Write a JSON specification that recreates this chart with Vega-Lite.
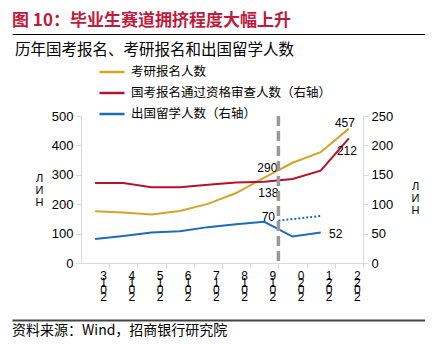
{
  "$schema": "https://vega.github.io/schema/vega-lite/v6.json",
  "padding": {"left": 12, "top": 12, "right": 0, "bottom": 0},
  "background": "white",
  "spacing": 8,
  "resolve": {"scale": {"color": "independent", "x": "independent"}, "legend": {"color": "independent"}},
  "config": {
    "view": {"stroke": null},
    "font": "Noto Sans CJK SC",
    "axis": {"labelFont": "Liberation Sans", "labelColor": "#000", "domainColor": "#d9d9d9", "tickColor": "#d9d9d9", "grid": false, "titleFont": "Liberation Sans", "titleFontWeight": "normal", "titleColor": "#000"}
  },
  "datasets": {
    "main": [
      {"year": 2013, "series": "考研报名人数", "value": 176},
      {"year": 2014, "series": "考研报名人数", "value": 172},
      {"year": 2015, "series": "考研报名人数", "value": 165},
      {"year": 2016, "series": "考研报名人数", "value": 177},
      {"year": 2017, "series": "考研报名人数", "value": 201},
      {"year": 2018, "series": "考研报名人数", "value": 238},
      {"year": 2019, "series": "考研报名人数", "value": 290},
      {"year": 2020, "series": "考研报名人数", "value": 341},
      {"year": 2021, "series": "考研报名人数", "value": 377},
      {"year": 2022, "series": "考研报名人数", "value": 457},
      {"year": 2013, "series": "国考报名通过资格审查人数（右轴）", "value": 136},
      {"year": 2014, "series": "国考报名通过资格审查人数（右轴）", "value": 136},
      {"year": 2015, "series": "国考报名通过资格审查人数（右轴）", "value": 129},
      {"year": 2016, "series": "国考报名通过资格审查人数（右轴）", "value": 129},
      {"year": 2017, "series": "国考报名通过资格审查人数（右轴）", "value": 133},
      {"year": 2018, "series": "国考报名通过资格审查人数（右轴）", "value": 137},
      {"year": 2019, "series": "国考报名通过资格审查人数（右轴）", "value": 138},
      {"year": 2020, "series": "国考报名通过资格审查人数（右轴）", "value": 143},
      {"year": 2021, "series": "国考报名通过资格审查人数（右轴）", "value": 157},
      {"year": 2022, "series": "国考报名通过资格审查人数（右轴）", "value": 212},
      {"year": 2013, "series": "出国留学人数（右轴）", "value": 41},
      {"year": 2014, "series": "出国留学人数（右轴）", "value": 46},
      {"year": 2015, "series": "出国留学人数（右轴）", "value": 52},
      {"year": 2016, "series": "出国留学人数（右轴）", "value": 54},
      {"year": 2017, "series": "出国留学人数（右轴）", "value": 61},
      {"year": 2018, "series": "出国留学人数（右轴）", "value": 66},
      {"year": 2019, "series": "出国留学人数（右轴）", "value": 70},
      {"year": 2020, "series": "出国留学人数（右轴）", "value": 45},
      {"year": 2021, "series": "出国留学人数（右轴）", "value": 52}
    ],
    "proj": [
      {"year": 2019.5, "value": 72},
      {"year": 2021, "value": 80}
    ],
    "divider": [{"year": 2019.5}]
  },
  "vconcat": [
    {
      "width": 413,
      "height": 1,
      "title": {"text": "图 10：毕业生赛道拥挤程度大幅上升", "anchor": "start", "font": "Noto Sans CJK SC", "fontSize": 17, "fontWeight": "bold", "color": "#C01A3D", "offset": 3},
      "mark": {"type": "text"},
      "encoding": {
        "x": {"datum": 0, "type": "quantitative", "scale": {"domain": [0, 1]}, "axis": {"orient": "bottom", "domainColor": "#000", "domainWidth": 1.2, "ticks": false, "labels": false, "title": null}},
        "text": {"value": ""}
      }
    },
    {
      "width": 413,
      "height": 147,
      "title": {"text": "历年国考报名、考研报名和出国留学人数", "anchor": "start", "frame": "group", "dx": 3, "font": "Noto Sans CJK SC", "fontSize": 15.5, "fontWeight": "normal", "color": "#000", "offset": 0},
      "data": {"name": "main"},
      "encoding": {
        "x": {
          "field": "year", "type": "quantitative",
          "scale": {"domain": [2012.5, 2022.5], "nice": false, "zero": false, "range": [69, 351]},
          "axis": {
            "values": [2013, 2014, 2015, 2016, 2017, 2018, 2019, 2020, 2021, 2022],
            "format": "d",
            "tickOffset": 14, "labelOffset": -6, "tickSize": 5,
            "labelAngle": 0, "labelAlign": "center", "labelBaseline": "top",
            "labelFontSize": 12, "labelLineHeight": 7, "labelPadding": 2,
            "labelFlush": false, "labelOverlap": false,
            "labelExpr": "[substring(datum.label,3,4), substring(datum.label,2,3), substring(datum.label,1,2), substring(datum.label,0,1)]",
            "title": " ", "titleFontSize": 6, "titlePadding": 4
          }
        }
      },
      "layer": [
        {
          "transform": [{"filter": "datum.series === '考研报名人数'"}],
          "encoding": {
            "y": {
              "field": "value", "type": "quantitative",
              "scale": {"domain": [0, 500], "nice": false},
              "axis": {"orient": "left", "offset": -69, "values": [0, 100, 200, 300, 400, 500], "labelFontSize": 13, "labelPadding": 3, "tickSize": 5,
                "title": ["Л", "И", "Н"], "titleAngle": 0, "titleFontSize": 11, "titleLineHeight": 12, "titleAlign": "center", "titleBaseline": "middle", "titleX": -42, "titleY": 62}
            }
          },
          "layer": [
            {
              "mark": {"type": "line", "strokeWidth": 2},
              "encoding": {
                "color": {
                  "field": "series", "type": "nominal",
                  "scale": {"domain": ["考研报名人数", "国考报名通过资格审查人数（右轴）", "出国留学人数（右轴）"], "range": ["#D4A32A", "#B5122E", "#1E6BBE"]},
                  "legend": {"orient": "none", "legendX": 86, "legendY": -58, "title": null, "padding": 0, "symbolType": "stroke", "symbolStrokeWidth": 2.5, "symbolSize": 625, "labelFontSize": 12.5, "labelFont": "Noto Sans CJK SC", "labelColor": "#000", "labelOffset": 5, "labelLimit": 0, "rowPadding": -15}
                }
              }
            },
            {
              "transform": [{"filter": "datum.year === 2019"}],
              "mark": {"type": "text", "font": "Liberation Sans", "fontSize": 12, "color": "#000", "dy": -10, "dx": 3},
              "encoding": {"text": {"field": "value", "type": "quantitative"}}
            },
            {
              "transform": [{"filter": "datum.year === 2022"}],
              "mark": {"type": "text", "font": "Liberation Sans", "fontSize": 12, "color": "#000", "dy": -6, "dx": -4},
              "encoding": {"text": {"field": "value", "type": "quantitative"}}
            }
          ]
        },
        {
          "transform": [{"filter": "datum.series !== '考研报名人数'"}],
          "encoding": {
            "y": {
              "field": "value", "type": "quantitative",
              "scale": {"domain": [0, 250], "nice": false},
              "axis": {"orient": "right", "offset": -62, "values": [0, 50, 100, 150, 200, 250], "labelFontSize": 13, "labelPadding": 3, "tickSize": 5,
                "title": ["Л", "И", "Н"], "titleAngle": 0, "titleFontSize": 11, "titleLineHeight": 12, "titleAlign": "center", "titleBaseline": "middle", "titleX": 52, "titleY": 70}
            }
          },
          "layer": [
            {
              "mark": {"type": "line", "strokeWidth": 2},
              "encoding": {
                "color": {
                  "field": "series", "type": "nominal",
                  "scale": {"domain": ["考研报名人数", "国考报名通过资格审查人数（右轴）", "出国留学人数（右轴）"], "range": ["#D4A32A", "#B5122E", "#1E6BBE"]},
                  "legend": {"orient": "none", "legendX": 86, "legendY": -58, "title": null, "padding": 0, "symbolType": "stroke", "symbolStrokeWidth": 2.5, "symbolSize": 625, "labelFontSize": 12.5, "labelFont": "Noto Sans CJK SC", "labelColor": "#000", "labelOffset": 5, "labelLimit": 0, "rowPadding": -15}
                }
              }
            },
            {
              "data": {"name": "proj"},
              "transform": [],
              "mark": {"type": "line", "strokeWidth": 2, "color": "#1E6BBE", "strokeDash": [2, 2]},
              "encoding": {}
            },
            {
              "transform": [{"filter": "datum.year === 2019 && datum.series === '国考报名通过资格审查人数（右轴）'"}],
              "mark": {"type": "text", "font": "Liberation Sans", "fontSize": 12, "color": "#000", "dy": 11, "dx": 4},
              "encoding": {"text": {"field": "value", "type": "quantitative"}}
            },
            {
              "transform": [{"filter": "datum.year === 2022 && datum.series === '国考报名通过资格审查人数（右轴）'"}],
              "mark": {"type": "text", "font": "Liberation Sans", "fontSize": 12, "color": "#000", "dy": 13, "dx": -2},
              "encoding": {"text": {"field": "value", "type": "quantitative"}}
            },
            {
              "transform": [{"filter": "datum.year === 2019 && datum.series === '出国留学人数（右轴）'"}],
              "mark": {"type": "text", "font": "Liberation Sans", "fontSize": 12, "color": "#000", "dy": -5, "dx": 4},
              "encoding": {"text": {"field": "value", "type": "quantitative"}}
            },
            {
              "transform": [{"filter": "datum.year === 2021 && datum.series === '出国留学人数（右轴）'"}],
              "mark": {"type": "text", "font": "Liberation Sans", "fontSize": 12, "color": "#000", "dy": 2, "dx": 15},
              "encoding": {"text": {"field": "value", "type": "quantitative"}}
            }
          ]
        },
        {
          "data": {"name": "divider"},
          "mark": {"type": "rule", "color": "#999999", "strokeWidth": 3.5, "strokeDash": [10, 5]},
          "encoding": {}
        }
      ],
      "resolve": {"scale": {"y": "independent"}}
    },
    {
      "width": 413,
      "height": 1,
      "title": {"text": "资料来源：Wind，招商银行研究院", "orient": "bottom", "anchor": "start", "font": "Noto Sans CJK SC", "fontSize": 14, "fontWeight": "normal", "color": "#000", "offset": 3},
      "mark": {"type": "text"},
      "encoding": {
        "x": {"datum": 0, "type": "quantitative", "scale": {"domain": [0, 1]}, "axis": {"orient": "top", "domainColor": "#444", "domainWidth": 1.8, "ticks": false, "labels": false, "title": null}},
        "text": {"value": ""}
      }
    }
  ]
}
